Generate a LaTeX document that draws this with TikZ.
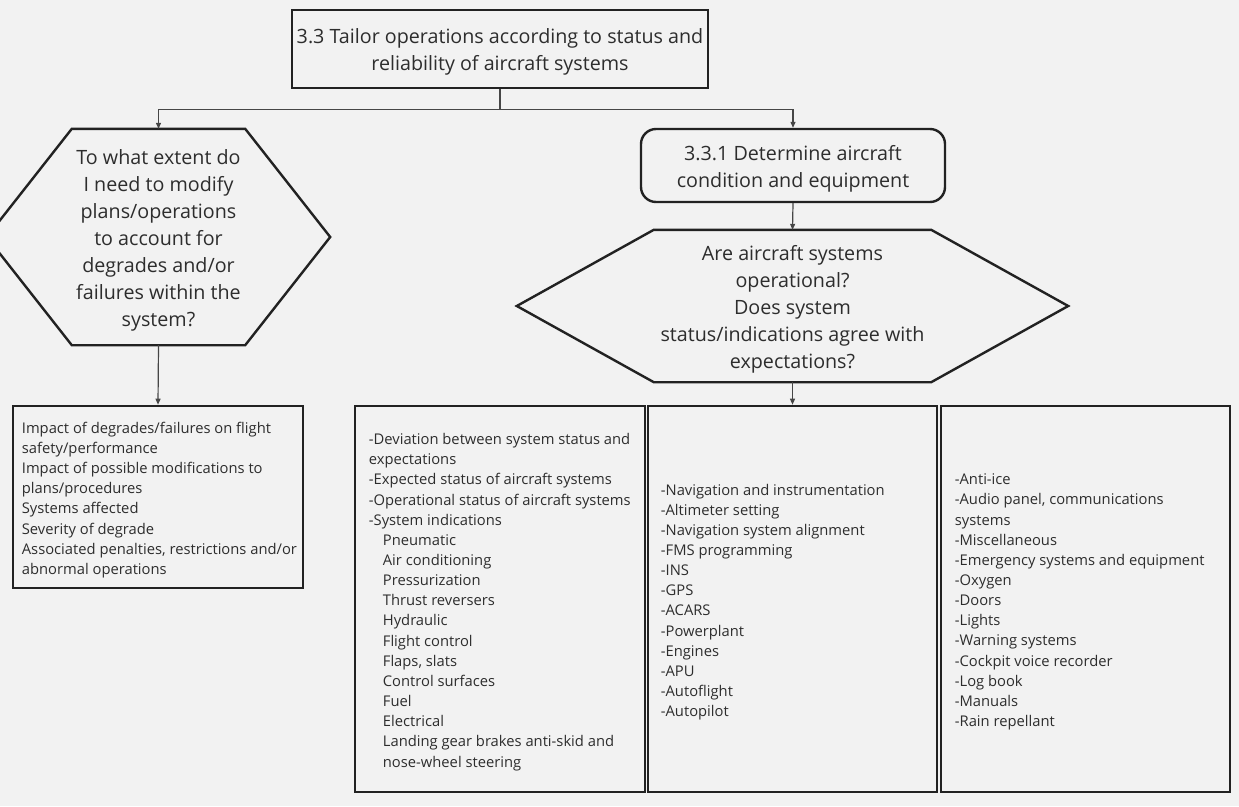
\documentclass[tikz,border=0pt]{standalone}
\usepackage{fontspec}
\setmainfont{Open Sans}
\usetikzlibrary{calc,arrows.meta,positioning}
\definecolor{canvas}{RGB}{242,242,242}
\definecolor{ink}{RGB}{34,34,34}
\definecolor{txt}{RGB}{45,45,45}
\definecolor{wire}{RGB}{70,70,70}

\tikzset{
  bigtext/.style={font=\fontsize{19.7}{27}\selectfont, text=txt, align=center, inner sep=0pt},
  smalltext/.style={font=\fontsize{14.75}{20.15}\selectfont, text=txt, align=left, inner sep=0pt},
  titlebox/.style={draw=ink, line width=2.6pt},
  roundbox/.style={draw=ink, line width=2.4pt, rounded corners=15pt},
  hexline/.style={draw=ink, line width=2.4pt, line join=miter},
  listbox/.style={draw=ink, line width=2.6pt, minimum width=290, minimum height=386},
  wire/.style={draw=wire, line width=1.2pt, -{Triangle[length=6pt,width=5pt]}}
}

\begin{document}
\begin{tikzpicture}[x=1pt, y=-1pt]
    \fill[canvas] (0,0) rectangle (1239,806);
    \useasboundingbox (0,0) rectangle (1239,806);

    % top
    \node[titlebox, minimum width=416, minimum height=78] (tailor) at (500,49) {};
    \node[bigtext] (tailortext) at ([yshift=-3]tailor.center)
      {3.3 Tailor operations according to status and\\reliability of aircraft systems};

    % left branch
    \node[minimum width=173, minimum height=216, inner sep=0pt] (extent) at (158.5,237) {};
    \draw[hexline] (extent.north west) -- (extent.north east) -- ([xshift=85]extent.east)
      -- (extent.south east) -- (extent.south west) -- ([xshift=-85]extent.west) -- cycle;
    \node[bigtext] (extenttext) at ([yshift=-3]extent.center)
      {To what extent do\\I need to modify\\plans/operations\\to account for\\degrades and/or\\failures within the\\system?};

    \node[draw=ink, line width=2.6pt, minimum width=290, minimum height=182] (impact) at (158,497) {};
    \node[smalltext, anchor=west] (impacttext) at ([xshift=10, yshift=-3]impact.west)
      {Impact of degrades/failures on flight\\safety/performance\\Impact of possible modifications to\\plans/procedures\\Systems affected\\Severity of degrade\\Associated penalties, restrictions and/or\\abnormal operations};

    % right branch
    \node[roundbox, minimum width=304, minimum height=73] (determine) at (793,165.5) {};
    \node[bigtext] (determinetext) at ([yshift=-3]determine.center)
      {3.3.1 Determine aircraft\\condition and equipment};

    \node[minimum width=277, minimum height=152, inner sep=0pt] (operational) at (792.5,306) {};
    \draw[hexline] (operational.north west) -- (operational.north east) -- ([xshift=137]operational.east)
      -- (operational.south east) -- (operational.south west) -- ([xshift=-137]operational.west) -- cycle;
    \node[bigtext] (operationaltext) at ([yshift=-3]operational.center)
      {Are aircraft systems\\operational?\\Does system\\status/indications agree with\\expectations?};

    % lists
    \node[listbox] (devbox) at (500,599) {};
    \node[listbox, minimum width=289] (navbox) at (792.5,599) {};
    \node[listbox, minimum width=289] (icebox) at (1085.5,599) {};

    \node[smalltext, anchor=west] (devtext) at ([xshift=15, yshift=-3]devbox.west)
      {-Deviation between system status and\\expectations\\-Expected status of aircraft systems\\-Operational status of aircraft systems\\-System indications\\
       \hspace*{14pt}Pneumatic\\\hspace*{14pt}Air conditioning\\\hspace*{14pt}Pressurization\\\hspace*{14pt}Thrust reversers\\
       \hspace*{14pt}Hydraulic\\\hspace*{14pt}Flight control\\\hspace*{14pt}Flaps, slats\\\hspace*{14pt}Control surfaces\\
       \hspace*{14pt}Fuel\\\hspace*{14pt}Electrical\\\hspace*{14pt}Landing gear brakes anti-skid and\\\hspace*{14pt}nose-wheel steering};
    \node[smalltext, anchor=west] (navtext) at ([xshift=14, yshift=-3]navbox.west)
      {-Navigation and instrumentation\\-Altimeter setting\\-Navigation system alignment\\-FMS programming\\-INS\\-GPS\\-ACARS\\-Powerplant\\-Engines\\-APU\\-Autoflight\\-Autopilot};
    \node[smalltext, anchor=west] (icetext) at ([xshift=15, yshift=-3]icebox.west)
      {-Anti-ice\\-Audio panel, communications\\systems\\-Miscellaneous\\-Emergency systems and equipment\\-Oxygen\\-Doors\\-Lights\\-Warning systems\\-Cockpit voice recorder\\-Log book\\-Manuals\\-Rain repellant};

    % connectors
    \draw[wire] (tailor.south) -- ++(0,20) -| (extent.north);
    \draw[wire] (tailor.south) -- ++(0,20) -| (determine.north);
    \draw[wire] (extent.south) -- (impact.north);
    \draw[wire] (determine.south) -- (operational.north);
    \draw[wire] (operational.south) -- (navbox.north);
\end{tikzpicture}
\end{document}
